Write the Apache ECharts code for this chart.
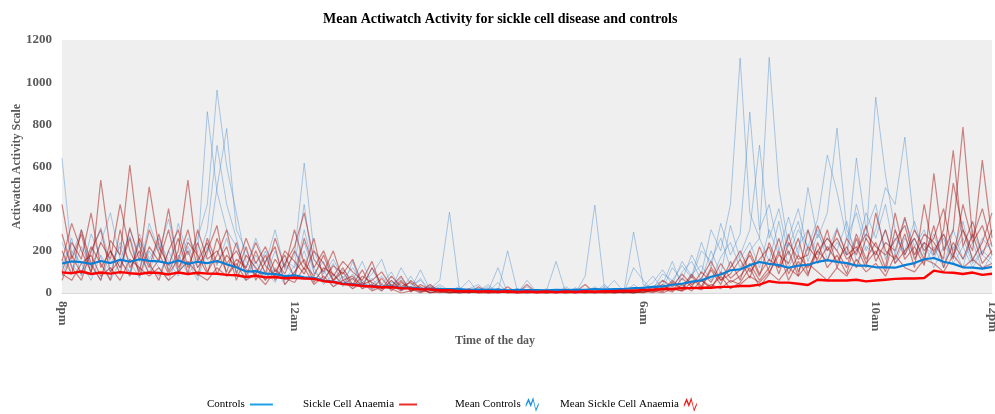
<!DOCTYPE html>
<html><head><meta charset="utf-8">
<script src="https://cdn.jsdelivr.net/npm/echarts@6/dist/echarts.min.js"></script>
<style>html,body{margin:0;padding:0;background:#fff}#c{width:995px;height:414px}</style>
</head><body><div id="c"></div>
<script>
// time step: 10 minutes from 8pm (index 0) to 12pm (index 96)
const stepMinutes = 10;
const tickLabels = {0:'8pm', 240:'12am', 600:'6am', 840:'10am', 960:'12pm'};

const meanControls = [140,150,146,138,152,142,158,148,160,152, 150,140,154,138,148,142,152,136,122,102, 104,92,90,80,84,74,72,58,54,44, 42,35,34,29,30,24,25,21,20,19, 18,19,15,16,15,16,13,15,14,14, 12,15,14,15,15,19,16,19,19,23, 24,29,31,39,44,54,60,77,88,108, 112,132,147,138,132,120,130,133,148,156, 148,142,130,130,122,122,120,132,142,160, 166,148,138,122,120,116,124];
const meanSCA = [98,94,102,90,97,92,99,94,90,97, 95,88,97,90,96,92,91,86,84,76, 82,74,76,70,72,69,67,56,52,42, 39,33,31,27,27,23,21,17,17,13, 13,9,10,7,9,6,8,5,7,5, 7,4,7,5,8,6,9,8,11,11, 15,15,19,19,23,23,25,25,29,29, 33,33,40,56,49,49,44,38,63,59, 59,59,63,55,59,63,67,69,69,71, 106,98,96,90,97,86,91];

const controls1 = [120,260,80,190,310,140,220,90,280,160, 240,110,330,180,260,420,962,600,380,150, 90,200,70,160,120,240,100,60,140,40, 90,30,120,20,60,15,80,10,40,5, 20,0,10,5,30,0,15,0,60,5, 0,10,0,25,0,5,40,0,10,20, 30,80,20,120,60,180,90,300,200,420, 1114,380,260,1118,500,220,340,150,280,200, 310,180,420,250,929,560,300,180,260,140, 220,120,300,160,240,110,180];
const controls2 = [640,180,300,120,240,380,160,270,110,330, 200,350,140,260,190,860,480,300,220,120, 260,140,300,110,180,616,200,90,160,70, 120,50,90,160,30,70,20,110,15,40, 10,30,0,15,5,50,0,20,0,10, 5,0,30,0,15,0,10,60,5,0, 20,50,110,40,150,80,240,120,330,180, 280,858,300,420,200,360,180,500,260,380, 782,300,200,380,260,420,180,350,220,300, 160,280,200,340,150,260,200];
const controls3 = [80,200,140,60,180,100,240,150,70,200, 120,60,180,90,150,300,700,420,260,80, 150,60,120,40,90,200,60,110,30,80, 20,60,15,40,100,10,30,5,20,60, 384,20,0,10,40,0,5,20,0,15, 0,10,5,0,80,417,20,0,5,289, 40,20,90,60,130,70,200,150,260,120, 180,300,701,260,400,180,300,220,350,654, 480,260,380,200,300,500,420,739,300,220, 180,260,140,220,120,200,160];
const controls4 = [160,90,220,130,60,200,120,300,180,90, 260,150,80,220,120,180,500,780,300,200, 110,80,200,60,130,420,90,150,50,110, 60,150,40,80,20,120,40,60,10,30, 0,15,60,0,10,120,0,5,30,0, 10,150,0,20,5,0,30,10,0,40, 10,30,60,20,100,150,60,200,90,320, 160,240,120,300,180,260,400,200,300,160, 240,180,640,300,420,160,260,200,340,180, 280,140,220,120,300,180,140];
const controls5 = [240,130,90,280,170,60,150,100,240,130, 80,200,100,150,60,220,130,260,100,60, 180,100,50,140,80,300,120,40,90,30, 150,20,70,10,50,40,15,70,5,20, 10,0,20,40,0,5,200,10,0,5, 20,0,10,5,0,30,0,15,0,120, 60,10,40,150,30,90,130,60,170,240, 120,200,260,150,340,120,220,300,180,260, 200,340,150,220,180,300,140,260,180,240, 120,220,180,260,140,200,240];

const sca1 = [420,160,280,90,536,200,120,260,80,220, 150,300,100,240,180,90,260,140,200,110, 90,180,60,140,220,380,160,100,200,60, 80,30,120,40,20,60,10,30,0,15, 5,0,10,0,20,0,5,0,10,0, 0,5,0,10,0,0,15,0,5,0, 10,0,20,5,40,10,60,30,80,20, 50,120,30,90,200,60,150,80,240,120, 180,90,260,140,200,100,300,160,220,130, 568,200,300,787,260,400,220];
const sca2 = [200,90,300,140,60,250,180,607,220,120, 280,100,200,536,150,240,90,180,120,260, 140,220,100,180,70,260,120,200,80,150, 100,60,150,20,80,30,50,10,40,5, 0,10,0,30,0,5,0,15,0,0, 10,0,0,5,40,0,0,10,0,5, 0,20,5,50,15,80,20,110,40,150, 60,200,90,160,120,280,100,220,160,300, 120,260,180,320,150,240,200,360,180,280, 240,160,521,300,200,630,260];
const sca3 = [100,240,160,380,120,200,90,310,150,503, 220,130,260,90,300,160,200,100,240,80, 200,90,260,120,300,140,80,180,60,120, 40,110,20,70,10,50,20,0,30,10, 0,5,20,0,0,10,0,0,40,0, 5,0,20,0,0,5,0,0,10,0, 5,30,10,60,20,90,30,120,60,90, 160,70,220,100,180,140,260,90,200,150, 300,180,220,120,380,200,160,280,120,420, 180,300,677,220,340,180,300];
const sca4 = [60,180,90,220,140,60,300,120,200,90, 160,400,120,200,80,260,140,220,60,180, 120,60,160,90,200,110,260,60,130,90, 160,40,60,100,30,80,5,40,15,0, 20,0,5,0,10,0,30,0,0,10, 0,0,5,0,10,0,5,0,0,20, 0,15,40,10,70,30,100,50,140,70, 110,180,80,240,120,200,80,300,140,220, 150,220,120,260,180,300,140,200,260,160, 320,120,240,160,280,140,200];
const sca5 = [280,120,60,200,300,100,160,80,260,140, 60,200,300,120,240,100,180,300,90,220, 60,150,220,40,100,160,50,120,90,40, 70,20,40,10,60,15,30,5,10,20, 0,10,0,5,0,0,10,0,5,0, 0,10,0,0,5,0,20,0,10,0, 15,5,30,20,10,50,60,20,100,50, 80,140,60,120,260,90,180,120,200,260, 200,120,280,160,240,120,380,180,300,200, 260,400,180,300,160,240,380];
const sca6 = [150,330,200,100,240,160,420,200,100,300, 190,90,160,300,120,200,320,80,160,120, 240,130,80,200,150,90,200,140,60,100, 30,80,50,20,40,10,60,20,0,10, 10,0,0,15,0,20,0,0,0,5, 0,5,0,0,0,15,0,5,0,0, 20,10,60,30,90,40,70,150,60,120, 200,100,160,220,90,240,160,180,320,200, 260,160,200,280,220,180,250,320,160,240, 200,280,160,420,240,320,180];
const sca7 = [90,60,140,180,80,120,60,160,120,80, 120,60,100,150,90,60,120,80,140,60, 90,40,110,70,50,120,40,80,30,60, 20,50,10,30,20,0,10,20,0,5, 0,0,5,0,0,0,5,0,0,0, 0,0,0,5,0,0,0,0,5,0, 5,10,0,20,10,30,15,40,20,60, 40,80,50,100,60,120,80,140,100,60, 120,80,160,100,140,80,180,120,100,160, 140,100,180,120,160,120,140];

const controlTraces = [controls1, controls2, controls3, controls4, controls5];
const scaTraces = [sca1, sca2, sca3, sca4, sca5, sca6, sca7];

const toPairs = arr => arr.map((v, i) => [i * stepMinutes, v]);
const serif = '"Liberation Serif","Times New Roman",serif';
const series = [];
controlTraces.forEach(t => series.push({
  name: 'Controls', type: 'line', data: toPairs(t), showSymbol: false, symbol: 'none',
  lineStyle: { color: '#4f8fcf', width: 1, opacity: 0.45 }, itemStyle: { color: '#1ea0e8' },
  z: 2, silent: true, animation: false
}));
scaTraces.forEach(t => series.push({
  name: 'Sickle Cell Anaemia', type: 'line', data: toPairs(t), showSymbol: false, symbol: 'none',
  lineStyle: { color: '#a81212', width: 1.2, opacity: 0.5 }, itemStyle: { color: '#e8302a' },
  z: 3, silent: true, animation: false
}));
series.push({
  name: 'Mean Controls', type: 'line', data: toPairs(meanControls), showSymbol: false, symbol: 'none',
  lineStyle: { color: '#0b7fd6', width: 2.2 }, itemStyle: { color: '#1a8fe0' }, z: 5, animation: false
});
series.push({
  name: 'Mean Sickle Cell Anaemia', type: 'line', data: toPairs(meanSCA), showSymbol: false, symbol: 'none',
  lineStyle: { color: '#ff0000', width: 2.4 }, itemStyle: { color: '#ee1c1c' }, z: 6, animation: false
});

const zig = 'path://M0 9 L3 2 L5.5 8 L8 1 L11 14 L14 7 L14 10 L11 17 L8 5 L5.5 12 L3 6 L0 12 Z';
const legendBase = { top: 394, align: 'right', itemGap: 0, textStyle: { fontFamily: serif, fontSize: 11, color: '#000' }, selectedMode: false };

const chart = echarts.init(document.getElementById('c'), null, { renderer: 'canvas' });
chart.setOption({
  animation: false,
  title: { text: 'Mean Actiwatch Activity for sickle cell disease and controls', left: 318, top: 7,
    textStyle: { fontFamily: serif, fontSize: 14, fontWeight: 'bold', color: '#000' } },
  grid: { left: 62, right: 3, top: 40, bottom: 121, show: true, backgroundColor: '#efefef', borderWidth: 0,
    outerBoundsMode: 'none', containLabel: false },
  xAxis: {
    type: 'value', min: 0, max: 960, interval: 120,
    name: 'Time of the day', nameLocation: 'middle', nameGap: 42, nameMoveOverlap: false,
    nameTextStyle: { fontFamily: serif, fontSize: 12, fontWeight: 'bold', color: '#595959', padding: [0, 64, 0, 0] },
    axisLine: { show: true, lineStyle: { color: '#d9d9d9' } }, axisTick: { show: false }, splitLine: { show: false },
    axisLabel: { rotate: -90, margin: 8, fontFamily: serif, fontSize: 13, fontWeight: 'bold', color: '#595959',
      formatter: v => tickLabels[v] || '' }
  },
  yAxis: {
    type: 'value', min: 0, max: 1200, interval: 200,
    name: 'Actiwatch Activity Scale', nameLocation: 'middle', nameGap: 39, nameMoveOverlap: false,
    nameTextStyle: { fontFamily: serif, fontSize: 12, fontWeight: 'bold', color: '#595959' },
    axisLine: { show: false }, axisTick: { show: false }, splitLine: { show: false },
    axisLabel: { margin: 10, fontFamily: serif, fontSize: 13, fontWeight: 'bold', color: '#595959',
      formatter: v => String(v) }
  },
  legend: [
    Object.assign({}, legendBase, { left: 202, data: [{ name: 'Controls', icon: 'rect', itemStyle: { color: '#1ea0e8', opacity: 1 } }], itemWidth: 23, itemHeight: 2 }),
    Object.assign({}, legendBase, { left: 298, data: [{ name: 'Sickle Cell Anaemia', icon: 'rect', itemStyle: { color: '#e8302a', opacity: 1 } }], itemWidth: 18, itemHeight: 2 }),
    Object.assign({}, legendBase, { left: 450, top: 392, data: [{ name: 'Mean Controls', icon: zig, itemStyle: { color: '#1a8fe0' } }], itemWidth: 13, itemHeight: 16 }),
    Object.assign({}, legendBase, { left: 555, top: 392, data: [{ name: 'Mean Sickle Cell Anaemia', icon: zig, itemStyle: { color: '#ee1c1c' } }], itemWidth: 13, itemHeight: 16 })
  ],
  series: series
});
</script></body></html>
